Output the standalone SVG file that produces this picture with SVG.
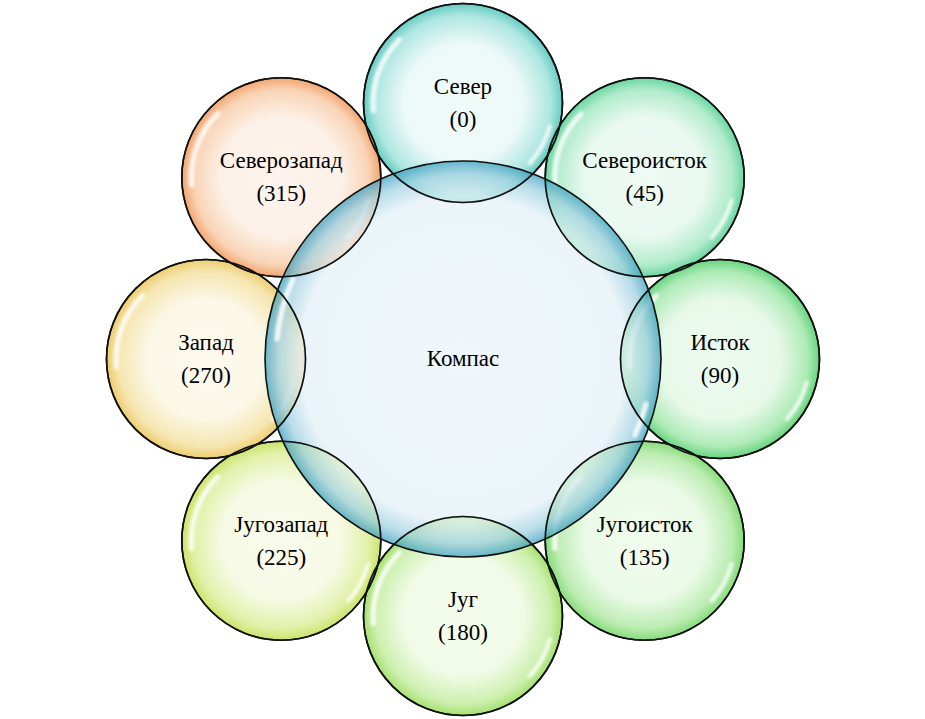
<svg xmlns="http://www.w3.org/2000/svg" xmlns:xlink="http://www.w3.org/1999/xlink" width="925" height="719" viewBox="0 0 925 719">
<style>
.bub{stroke:#111;stroke-width:1.6}
.outer{fill-opacity:0.85}
.center{fill-opacity:0.74}
.ring{fill:none;stroke:#111;stroke-width:1.6}
.lbl{font-family:"Liberation Serif","Times New Roman",serif;font-size:23px;fill:#000;text-anchor:middle}
</style>
<defs>
<filter id="blur" x="-20%" y="-20%" width="140%" height="140%"><feGaussianBlur stdDeviation="1.4"/></filter>
<radialGradient id="gC"><stop offset="0" stop-color="#eaf4f8"/><stop offset="0.82" stop-color="#e4f1f6"/><stop offset="0.93" stop-color="#9fd0e2"/><stop offset="1" stop-color="#3a9fbf"/></radialGradient>
<radialGradient id="gN"><stop offset="0" stop-color="#eefaf8"/><stop offset="0.6" stop-color="#e8f8f6"/><stop offset="0.88" stop-color="#a0e2dc"/><stop offset="1" stop-color="#4cc3b8"/></radialGradient>
<radialGradient id="gNE"><stop offset="0" stop-color="#ebf9f1"/><stop offset="0.6" stop-color="#e6f8ee"/><stop offset="0.88" stop-color="#a4e8c3"/><stop offset="1" stop-color="#4fcf90"/></radialGradient>
<radialGradient id="gE"><stop offset="0" stop-color="#eaf9ec"/><stop offset="0.6" stop-color="#e4f8e6"/><stop offset="0.88" stop-color="#a0e7aa"/><stop offset="1" stop-color="#4ccd6a"/></radialGradient>
<radialGradient id="gSE"><stop offset="0" stop-color="#eefbea"/><stop offset="0.6" stop-color="#e8f9e4"/><stop offset="0.88" stop-color="#b0e9a4"/><stop offset="1" stop-color="#72d564"/></radialGradient>
<radialGradient id="gS"><stop offset="0" stop-color="#f3fbea"/><stop offset="0.6" stop-color="#eefae2"/><stop offset="0.88" stop-color="#c4eda0"/><stop offset="1" stop-color="#96db56"/></radialGradient>
<radialGradient id="gSW"><stop offset="0" stop-color="#f8fbe8"/><stop offset="0.6" stop-color="#f5f9e0"/><stop offset="0.88" stop-color="#ddee9a"/><stop offset="1" stop-color="#c2df50"/></radialGradient>
<radialGradient id="gW"><stop offset="0" stop-color="#fcf9ea"/><stop offset="0.6" stop-color="#fbf6e2"/><stop offset="0.88" stop-color="#f4e1a2"/><stop offset="1" stop-color="#eac454"/></radialGradient>
<radialGradient id="gNW"><stop offset="0" stop-color="#fdf2ea"/><stop offset="0.6" stop-color="#fcefe4"/><stop offset="0.88" stop-color="#f8cca9"/><stop offset="1" stop-color="#f09656"/></radialGradient>
<g id="hl">
<path d="M -89.7 7.8 A 90 90 0 0 1 -63.6 -63.6" fill="none" stroke="#fff" stroke-width="5" stroke-linecap="round" opacity="0.85" filter="url(#blur)"/>
<path d="M 86.9 23.3 A 90 90 0 0 1 66.9 60.2" fill="none" stroke="#fff" stroke-width="4" stroke-linecap="round" opacity="0.85" filter="url(#blur)"/>
</g>
<g id="hlc">
<path d="M -186 -20 A 188 188 0 0 1 -170 -80" fill="none" stroke="#fff" stroke-width="5" stroke-linecap="round" opacity="0.9" filter="url(#blur)"/>
<path d="M 183 45 A 188 188 0 0 1 172 76" fill="none" stroke="#fff" stroke-width="5" stroke-linecap="round" opacity="0.9" filter="url(#blur)"/>
</g>
</defs>

<g id="node-N"><circle class="bub outer" cx="463" cy="103" r="99.5" fill="url(#gN)"/><use xlink:href="#hl" transform="translate(463,103)"/><text class="lbl" x="463" y="94">Север</text><text class="lbl" x="463" y="127">(0)</text></g>
<g id="node-NE"><circle class="bub outer" cx="644.7" cy="177.3" r="99.5" fill="url(#gNE)"/><use xlink:href="#hl" transform="translate(644.7,177.3)"/><text class="lbl" x="644.7" y="168">Североисток</text><text class="lbl" x="644.7" y="201">(45)</text></g>
<g id="node-E"><circle class="bub outer" cx="720" cy="359" r="99.5" fill="url(#gE)"/><use xlink:href="#hl" transform="translate(720,359)"/><text class="lbl" x="720" y="350">Исток</text><text class="lbl" x="720" y="383">(90)</text></g>
<g id="node-SE"><circle class="bub outer" cx="644.7" cy="540.7" r="99.5" fill="url(#gSE)"/><use xlink:href="#hl" transform="translate(644.7,540.7)"/><text class="lbl" x="644.7" y="532">Југоисток</text><text class="lbl" x="644.7" y="565">(135)</text></g>
<g id="node-S"><circle class="bub outer" cx="463" cy="616" r="99.5" fill="url(#gS)"/><use xlink:href="#hl" transform="translate(463,616)"/><text class="lbl" x="463" y="607">Југ</text><text class="lbl" x="463" y="640">(180)</text></g>
<g id="node-SW"><circle class="bub outer" cx="281.3" cy="540.7" r="99.5" fill="url(#gSW)"/><use xlink:href="#hl" transform="translate(281.3,540.7)"/><text class="lbl" x="281.3" y="532">Југозапад</text><text class="lbl" x="281.3" y="565">(225)</text></g>
<g id="node-W"><circle class="bub outer" cx="206" cy="359" r="99.5" fill="url(#gW)"/><use xlink:href="#hl" transform="translate(206,359)"/><text class="lbl" x="206" y="350">Запад</text><text class="lbl" x="206" y="383">(270)</text></g>
<g id="node-NW"><circle class="bub outer" cx="281.3" cy="177.3" r="99.5" fill="url(#gNW)"/><use xlink:href="#hl" transform="translate(281.3,177.3)"/><text class="lbl" x="281.3" y="168">Северозапад</text><text class="lbl" x="281.3" y="201">(315)</text></g>

<g id="node-center"><circle class="bub center" cx="463" cy="359" r="198" fill="url(#gC)"/><use xlink:href="#hlc" transform="translate(463,359)"/><text class="lbl" x="463" y="366">Компас</text></g>

<g id="outlines">
<circle class="ring" cx="463" cy="103" r="99.5"/>
<circle class="ring" cx="644.7" cy="177.3" r="99.5"/>
<circle class="ring" cx="720" cy="359" r="99.5"/>
<circle class="ring" cx="644.7" cy="540.7" r="99.5"/>
<circle class="ring" cx="463" cy="616" r="99.5"/>
<circle class="ring" cx="281.3" cy="540.7" r="99.5"/>
<circle class="ring" cx="206" cy="359" r="99.5"/>
<circle class="ring" cx="281.3" cy="177.3" r="99.5"/>
</g>
<g id="connectors"/>
</svg>
